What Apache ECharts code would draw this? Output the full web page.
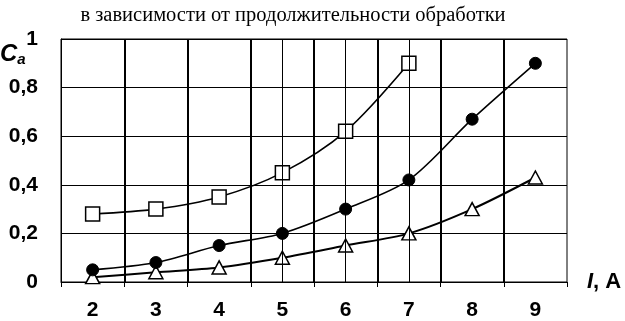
<!DOCTYPE html>
<html><head><meta charset="utf-8">
<script src="https://cdn.jsdelivr.net/npm/echarts@6/dist/echarts.min.js"></script>
<style>html,body{margin:0;padding:0;background:#fff}#c{width:625px;height:321px}</style>
</head><body><div id="c"></div>
<script>
const categories = ['2','3','4','5','6','7','8','9'];
const squares = [0.28, 0.30, 0.35, 0.45, 0.62, 0.90, null, null];
const circles = [0.05, 0.08, 0.15, 0.20, 0.30, 0.42, 0.67, 0.90];
const triangles = [0.02, 0.04, 0.06, 0.10, 0.15, 0.20, 0.30, 0.43];
const yTicks = [0, 0.2, 0.4, 0.6, 0.8, 1];
const dropLines = ['5','6','7'];
const titleText = 'в зависимости от продолжительности обработки';

const chart = echarts.init(document.getElementById('c'), null, {renderer:'canvas'});
const font = '"Liberation Sans", Arial, sans-serif';
const lineStyle = {color:'#000', width:1.6};
chart.setOption({
  animation:false,
  backgroundColor:'#fff',
  title:{text:titleText, left:288, textAlign:'center', top:0,
    textStyle:{fontFamily:'"Liberation Serif","Times New Roman",serif', fontWeight:'normal', fontSize:20.5, color:'#000'}},
  graphic:[{type:'text', left:0, top:42, style:{text:'{c|C}{a|a}', rich:{
    c:{fontFamily:font, fontWeight:'bold', fontStyle:'italic', fontSize:24, fill:'#000'},
    a:{fontFamily:font, fontWeight:'bold', fontStyle:'italic', fontSize:15, fill:'#000', padding:[12,0,0,0]}}}}],
  grid:{left:61, right:58, top:39, bottom:38, show:true, borderColor:'#000', borderWidth:1},
  xAxis:{type:'category', data:categories, boundaryGap:true,
    axisLine:{lineStyle:{color:'#000', width:1}},
    axisTick:{show:true, length:5, lineStyle:{color:'#000'}},
    axisLabel:{fontFamily:font, fontWeight:'bold', fontSize:21, color:'#000', margin:18},
    splitLine:{show:true, showMinLine:false, showMaxLine:false, lineStyle:{color:'#000', width:2}},
    name:'{i|I}{n|, A}', nameLocation:'end', nameGap:20,
    nameTextStyle:{rich:{i:{fontFamily:font, fontWeight:'bold', fontStyle:'italic', fontSize:22, color:'#000'},
      n:{fontFamily:font, fontWeight:'bold', fontSize:22, color:'#000'}}}},
  yAxis:{type:'value', min:0, max:1, interval:0.2,
    axisLine:{show:true, lineStyle:{color:'#000'}},
    axisTick:{show:false},
    axisLabel:{fontFamily:font, fontWeight:'bold', fontSize:21, color:'#000', margin:23,
      formatter:v=>{const t=yTicks.find(x=>Math.abs(x-v)<1e-9); return String(t!==undefined?t:v).replace('.',',');}},
    splitLine:{show:true, lineStyle:{color:'#000', width:1}}},
  series:[
    {type:'line', data:squares, smooth:0.3, symbol:'rect', symbolSize:14, showAllSymbol:true,
     lineStyle:lineStyle, itemStyle:{color:'#fff', borderColor:'#000', borderWidth:1.5}, z:3,
     markLine:{silent:true, symbol:'none', label:{show:false}, lineStyle:{color:'#000', width:1, type:'solid'},
       data:dropLines.map(c=>({xAxis:c}))}},
    {type:'line', data:circles, smooth:0.3, symbol:'circle', symbolSize:12,
     lineStyle:lineStyle, itemStyle:{color:'#000', borderColor:'#000'}, z:4},
    {type:'line', data:triangles, smooth:0.3, symbol:'triangle', symbolSize:[14,13],
     lineStyle:{color:'#000', width:2}, itemStyle:{color:'#fff', borderColor:'#000', borderWidth:1.5}, z:3}
  ]
});
</script></body></html>
